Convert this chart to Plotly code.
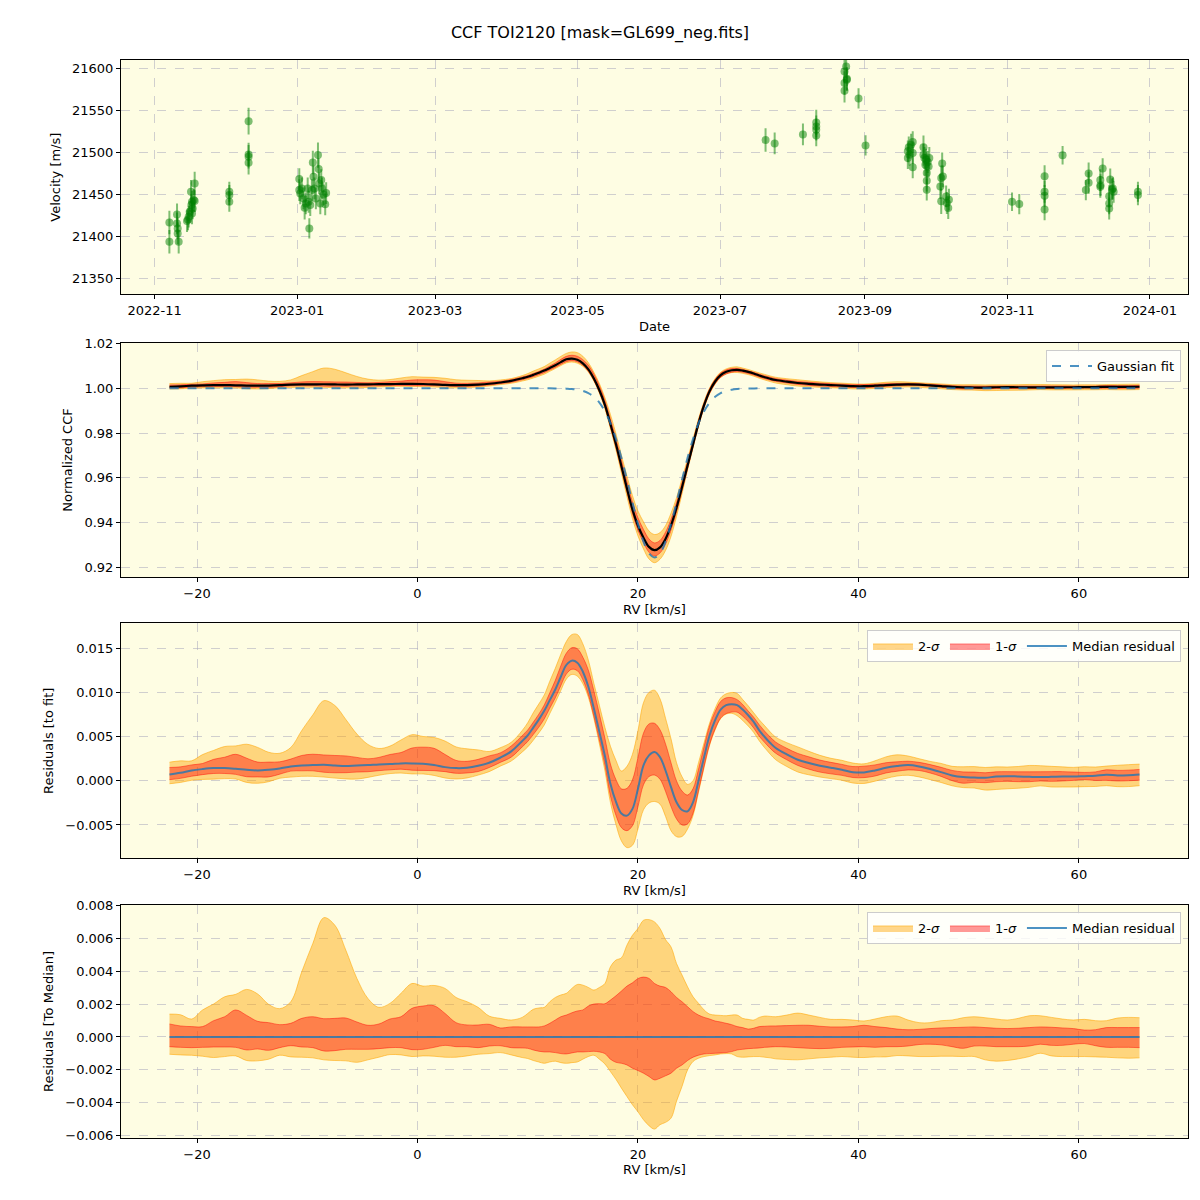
import plotly.graph_objects as go

# ---------------- Top panel: RV time series ----------------
obs_dates = [
    "2022-11-07 07:00", "2022-11-07 07:00", "2022-11-10 13:40", "2022-11-10 13:40",
    "2022-11-10 20:24", "2022-11-10 20:24", "2022-11-11 06:43", "2022-11-14 20:10",
    "2022-11-15 06:29", "2022-11-15 13:26", "2022-11-15 23:31", "2022-11-16 13:12",
    "2022-11-16 16:48", "2022-11-16 23:31", "2022-11-16 23:31", "2022-11-17 06:29",
    "2022-11-17 16:48", "2022-11-18 02:53", "2022-11-18 02:53",
    "2022-12-02 22:48", "2022-12-02 22:48", "2022-12-02 22:48",
    "2022-12-11 04:48", "2022-12-11 04:48", "2022-12-11 04:48", "2022-12-11 04:48",
    "2023-01-01 21:36", "2023-01-01 21:36", "2023-01-02 07:12", "2023-01-03 00:00",
    "2023-01-03 16:48", "2023-01-04 04:48", "2023-01-04 16:48", "2023-01-05 12:00",
    "2023-01-05 21:36", "2023-01-06 04:48", "2023-01-06 14:24", "2023-01-07 07:12",
    "2023-01-07 16:48", "2023-01-08 00:00", "2023-01-08 09:36", "2023-01-09 00:00",
    "2023-01-09 21:36", "2023-01-10 04:48", "2023-01-10 09:36", "2023-01-10 21:36",
    "2023-01-11 07:12", "2023-01-11 14:24", "2023-01-12 07:12", "2023-01-13 00:00",
    "2023-01-13 09:36",
    "2023-07-20 12:00", "2023-07-24 09:36", "2023-08-05 12:00",
    "2023-08-11 04:48", "2023-08-11 04:48", "2023-08-11 04:48", "2023-08-11 04:48",
    "2023-08-23 07:12", "2023-08-23 07:12", "2023-08-23 07:12", "2023-08-24 00:00",
    "2023-08-24 07:12", "2023-08-24 07:12", "2023-08-29 07:12", "2023-09-01 07:12",
    "2023-09-19 09:36", "2023-09-19 09:36", "2023-09-19 19:12", "2023-09-20 02:24",
    "2023-09-20 19:12", "2023-09-21 12:00", "2023-09-21 12:00", "2023-09-21 12:00",
    "2023-09-26 02:24", "2023-09-26 02:24", "2023-09-26 12:00", "2023-09-26 21:36",
    "2023-09-27 04:48", "2023-09-27 12:00", "2023-09-27 12:00", "2023-09-27 12:00",
    "2023-09-27 21:36", "2023-09-28 07:12", "2023-09-28 14:24",
    "2023-10-03 07:12", "2023-10-03 16:48", "2023-10-03 16:48", "2023-10-04 02:24",
    "2023-10-04 09:36", "2023-10-05 19:12", "2023-10-06 02:24", "2023-10-06 16:48",
    "2023-10-07 00:00",
    "2023-11-03 00:00", "2023-11-06 02:24", "2023-11-16 22:48", "2023-11-16 22:48",
    "2023-11-16 22:48", "2023-11-16 22:48", "2023-11-24 15:36", "2023-12-04 14:24",
    "2023-12-05 19:12", "2023-12-05 19:12", "2023-12-10 19:12", "2023-12-10 19:12",
    "2023-12-10 21:00", "2023-12-11 19:12", "2023-12-14 14:24", "2023-12-14 14:24",
    "2023-12-14 14:24", "2023-12-15 01:12", "2023-12-15 19:12", "2023-12-16 12:00",
    "2023-12-16 04:00", "2023-12-26 21:36", "2023-12-26 21:36",
]
velocity = [
    21416.6, 21393.6, 21426.0, 21415.4,
    21409.5, 21403.5, 21393.6, 21418.2,
    21420.2, 21423.4, 21429.3, 21453.1,
    21437.3, 21441.2, 21427.3, 21433.3,
    21443.2, 21442.0, 21463.0,
    21453.1, 21449.2, 21441.2,
    21537.2, 21497.6, 21494.8, 21487.6,
    21468.2, 21455.1, 21451.1, 21457.1,
    21445.2, 21434.1, 21439.2, 21457.1,
    21441.2, 21409.5, 21437.3, 21455.1,
    21488.0, 21471.0, 21457.1, 21445.2,
    21496.8, 21480.1, 21463.0, 21439.2,
    21467.0, 21457.1, 21449.9, 21438.1,
    21451.5,
    21514.7, 21510.7, 21521.4,
    21535.7, 21530.9, 21520.2, 21527.0,
    21596.4, 21582.5, 21573.4, 21602.4,
    21587.7, 21586.5, 21564.3, 21508.3,
    21501.2, 21493.3, 21506.0, 21497.2,
    21509.1, 21499.2, 21512.3, 21482.2,
    21506.0, 21497.2, 21493.3, 21485.3,
    21491.3, 21475.4, 21466.3, 21455.6,
    21488.5, 21483.3, 21493.3,
    21459.5, 21469.4, 21441.7, 21486.9,
    21471.4, 21447.6, 21439.7, 21433.7,
    21443.7,
    21441.2, 21438.4, 21471.7, 21453.1,
    21448.3, 21432.1, 21496.7, 21455.1,
    21474.9, 21463.8, 21459.0, 21467.0,
    21461.0, 21480.9, 21447.9, 21439.2,
    21433.2, 21467.8, 21455.9, 21453.1,
    21457.0, 21453.1, 21449.1,
]
velocity_err = [
    14, 14, 13, 13, 13, 13, 14, 13, 13, 13, 13, 14, 13, 13, 13, 13, 13, 13, 14,
    12, 12, 12, 16, 14, 14, 14,
    13, 13, 13, 13, 13, 14, 13, 13, 13, 12, 13, 13, 14, 13, 13, 13, 15, 13, 13, 13,
    13, 13, 13, 13, 13,
    14, 13, 13, 15, 13, 13, 13, 14, 14, 14, 14, 14, 13, 12, 12,
    13, 13, 13, 13, 13, 13, 13, 13, 14, 13, 13, 13, 13, 13, 13, 13, 13, 13, 13,
    15, 15, 15, 13, 13, 13, 13, 13, 13,
    11, 12, 13, 13, 13, 13, 11, 12, 13, 13, 13, 13, 13, 12, 13, 13, 13, 13, 13, 13,
    13, 12, 12,
]

# ---------------- CCF / residual profiles ----------------
rv = [
    -22.5, -21.5, -20.5, -19.5, -18.5, -17.5, -16.5, -15.5, -14.5, -13.5, -12.5,
    -11.5, -10.5, -9.5, -8.5, -7.5, -6.5, -5.5, -4.5, -3.5, -2.5, -1.5, -0.5,
    0.5, 1.5, 2.5, 3.5, 4.5, 5.5, 6.5, 7.5, 8.5, 9.5,
    10.0, 10.5, 11.0, 11.5, 12.0, 12.5, 13.0, 13.5, 14.0, 14.5,
    15.0, 15.5, 16.0, 16.5, 17.0, 17.5, 18.0, 18.5, 19.0, 19.5,
    20.0, 20.5, 21.0, 21.5, 22.0, 22.5, 23.0, 23.5, 24.0, 24.5,
    25.0, 25.5, 26.0, 26.5, 27.0, 27.5, 28.0, 28.5, 29.0, 29.5,
    30.0, 30.5, 31.0, 31.5, 32.0,
    32.5, 33.5, 34.5, 35.5, 36.5, 37.5, 38.5, 39.5, 40.5, 41.5, 42.5, 43.5,
    44.5, 45.5, 46.5, 47.5, 48.5, 49.5, 50.5, 51.5, 52.5, 53.5, 54.5, 55.5,
    56.5, 57.5, 58.5, 59.5, 60.5, 61.5, 62.5, 63.5, 64.5, 65.5,
]
gauss_fit = [
    1.0, 1.0, 1.0, 1.0, 1.0, 1.0, 1.0, 1.0, 1.0, 1.0, 1.0,
    1.0, 1.0, 1.0, 1.0, 1.0, 1.0, 1.0, 1.0, 1.0, 1.0, 1.0, 1.0,
    1.0, 1.0, 1.0, 1.0, 1.0, 1.0, 1.0, 1.0, 1.0, 1.0,
    1.0, 1.0, 1.0, 1.0, 0.99999, 0.99997, 0.99994, 0.99986, 0.99971, 0.99940,
    0.99884, 0.99784, 0.99619, 0.99360, 0.98977, 0.98443, 0.97746, 0.96892, 0.95922, 0.94907,
    0.93947, 0.93151, 0.92624, 0.92440, 0.92624, 0.93151, 0.93947, 0.94907, 0.95922, 0.96892,
    0.97746, 0.98443, 0.98977, 0.99360, 0.99619, 0.99784, 0.99884, 0.99940, 0.99971, 0.99986,
    0.99994, 0.99997, 0.99999, 1.0, 1.0,
    1.0, 1.0, 1.0, 1.0, 1.0, 1.0, 1.0, 1.0, 1.0, 1.0, 1.0, 1.0,
    1.0, 1.0, 1.0, 1.0, 1.0, 1.0, 1.0, 1.0, 1.0, 1.0, 1.0, 1.0,
    1.0, 1.0, 1.0, 1.0, 1.0, 1.0, 1.0, 1.0, 1.0, 1.0,
]
res_median = [
    0.00072, 0.00091, 0.00117, 0.00133, 0.00144, 0.00144, 0.00136, 0.00125, 0.00117, 0.00125, 0.00140,
    0.00163, 0.00174, 0.00178, 0.00182, 0.00174, 0.00167, 0.00174, 0.00178, 0.00186, 0.00189, 0.00197, 0.00197,
    0.00193, 0.00178, 0.00155, 0.00144, 0.00148, 0.00170, 0.00205, 0.00261, 0.00333, 0.00451,
    0.00515, 0.00602, 0.00693, 0.00792, 0.00913, 0.01034, 0.01178, 0.01311, 0.01360, 0.01337,
    0.01235, 0.01064, 0.00818, 0.00553, 0.00280, -0.00034, -0.00235, -0.00370, -0.00394, -0.00318,
    -0.00090, 0.00175, 0.00288, 0.00326, 0.00269, 0.00117, -0.00072, -0.00242, -0.00330, -0.00345,
    -0.00242, 0.00004, 0.00269, 0.00515, 0.00686, 0.00807, 0.00856, 0.00867, 0.00856, 0.00807,
    0.00742, 0.00667, 0.00572, 0.00496, 0.00428,
    0.00371, 0.00299, 0.00239, 0.00201, 0.00170, 0.00148, 0.00125, 0.00098, 0.00095, 0.00117, 0.00148, 0.00167,
    0.00178, 0.00163, 0.00133, 0.00098, 0.00061, 0.00042, 0.00038, 0.00034, 0.00049, 0.00053, 0.00049, 0.00045,
    0.00042, 0.00045, 0.00049, 0.00049, 0.00053, 0.00057, 0.00068, 0.00061, 0.00064, 0.00072,
]
# spread of the residuals around their median (bottom panel)
dev_hi2 = [
    0.00139, 0.00135, 0.00109, 0.00164, 0.00200, 0.00244, 0.00259, 0.00289, 0.00261, 0.00198, 0.00172,
    0.00214, 0.00396, 0.00568, 0.00725, 0.00679, 0.00527, 0.00356, 0.00234, 0.00180, 0.00204, 0.00265, 0.00325,
    0.00309, 0.00313, 0.00295, 0.00240, 0.00214, 0.00180, 0.00127, 0.00113, 0.00103, 0.00119,
    0.00143, 0.00168, 0.00176, 0.00180, 0.00214, 0.00240, 0.00255, 0.00265, 0.00295, 0.00319,
    0.00315, 0.00301, 0.00285, 0.00301, 0.00325, 0.00426, 0.00467, 0.00481, 0.00558, 0.00618,
    0.00659, 0.00709, 0.00713, 0.00699, 0.00659, 0.00592, 0.00547, 0.00446, 0.00376, 0.00305,
    0.00244, 0.00204, 0.00164, 0.00139, 0.00133, 0.00131, 0.00129, 0.00133, 0.00133, 0.00113,
    0.00107, 0.00103, 0.00119, 0.00127, 0.00125,
    0.00123, 0.00133, 0.00145, 0.00133, 0.00119, 0.00107, 0.00107, 0.00103, 0.00097, 0.00109, 0.00123, 0.00127,
    0.00103, 0.00087, 0.00087, 0.00099, 0.00103, 0.00117, 0.00123, 0.00117, 0.00109, 0.00103, 0.00113, 0.00129,
    0.00129, 0.00119, 0.00109, 0.00103, 0.00107, 0.00099, 0.00099, 0.00115, 0.00119, 0.00117,
]
dev_hi1 = [
    0.00079, 0.00067, 0.00063, 0.00063, 0.00099, 0.00123, 0.00164, 0.00131, 0.00095, 0.00087, 0.00075,
    0.00083, 0.00113, 0.00123, 0.00111, 0.00113, 0.00115, 0.00091, 0.00071, 0.00079, 0.00109, 0.00123, 0.00174,
    0.00188, 0.00190, 0.00143, 0.00087, 0.00073, 0.00073, 0.00077, 0.00055, 0.00061, 0.00061,
    0.00061, 0.00061, 0.00061, 0.00067, 0.00083, 0.00103, 0.00123, 0.00133, 0.00147, 0.00158,
    0.00164, 0.00188, 0.00200, 0.00202, 0.00202, 0.00224, 0.00250, 0.00279, 0.00309, 0.00329,
    0.00355, 0.00364, 0.00356, 0.00325, 0.00309, 0.00301, 0.00275, 0.00240, 0.00214, 0.00184,
    0.00154, 0.00133, 0.00119, 0.00109, 0.00097, 0.00091, 0.00083, 0.00075, 0.00063, 0.00057,
    0.00048, 0.00053, 0.00063, 0.00065, 0.00067,
    0.00067, 0.00069, 0.00071, 0.00071, 0.00065, 0.00061, 0.00061, 0.00063, 0.00071, 0.00063, 0.00057, 0.00048,
    0.00044, 0.00046, 0.00051, 0.00055, 0.00057, 0.00059, 0.00061, 0.00057, 0.00053, 0.00051, 0.00053, 0.00057,
    0.00061, 0.00059, 0.00055, 0.00051, 0.00042, 0.00044, 0.00057, 0.00057, 0.00057, 0.00057,
]
dev_lo1 = [
    -0.00059, -0.00063, -0.00065, -0.00063, -0.00061, -0.00061, -0.00063, -0.00079, -0.00073, -0.00081, -0.00065,
    -0.00053, -0.00061, -0.00065, -0.00085, -0.00083, -0.00075, -0.00075, -0.00075, -0.00071, -0.00065, -0.00065, -0.00077,
    -0.00075, -0.00063, -0.00051, -0.00059, -0.00059, -0.00065, -0.00055, -0.00053, -0.00065, -0.00067,
    -0.00069, -0.00079, -0.00087, -0.00091, -0.00091, -0.00095, -0.00101, -0.00103, -0.00097, -0.00091,
    -0.00091, -0.00089, -0.00087, -0.00091, -0.00101, -0.00135, -0.00154, -0.00160, -0.00170, -0.00190,
    -0.00204, -0.00220, -0.00240, -0.00261, -0.00251, -0.00236, -0.00220, -0.00190, -0.00170, -0.00143,
    -0.00123, -0.00111, -0.00103, -0.00101, -0.00099, -0.00097, -0.00095, -0.00089, -0.00079, -0.00075,
    -0.00071, -0.00069, -0.00067, -0.00063, -0.00061,
    -0.00059, -0.00061, -0.00065, -0.00069, -0.00071, -0.00069, -0.00063, -0.00061, -0.00059, -0.00063, -0.00059, -0.00059,
    -0.00055, -0.00046, -0.00044, -0.00048, -0.00059, -0.00069, -0.00055, -0.00055, -0.00059, -0.00059, -0.00059, -0.00055,
    -0.00044, -0.00051, -0.00051, -0.00044, -0.00040, -0.00053, -0.00063, -0.00063, -0.00063, -0.00065,
]
dev_lo2 = [
    -0.00105, -0.00109, -0.00111, -0.00117, -0.00125, -0.00119, -0.00115, -0.00143, -0.00145, -0.00135, -0.00111,
    -0.00121, -0.00123, -0.00127, -0.00139, -0.00143, -0.00145, -0.00154, -0.00139, -0.00123, -0.00107, -0.00109, -0.00119,
    -0.00115, -0.00117, -0.00123, -0.00123, -0.00115, -0.00105, -0.00101, -0.00095, -0.00109, -0.00125,
    -0.00131, -0.00143, -0.00152, -0.00160, -0.00152, -0.00147, -0.00156, -0.00160, -0.00156, -0.00152,
    -0.00135, -0.00119, -0.00111, -0.00135, -0.00164, -0.00210, -0.00257, -0.00311, -0.00362, -0.00412,
    -0.00455, -0.00503, -0.00539, -0.00560, -0.00533, -0.00519, -0.00493, -0.00390, -0.00300, -0.00200,
    -0.00149, -0.00129, -0.00119, -0.00113, -0.00109, -0.00103, -0.00101, -0.00103, -0.00119, -0.00123,
    -0.00121, -0.00119, -0.00119, -0.00123, -0.00127,
    -0.00133, -0.00137, -0.00139, -0.00133, -0.00127, -0.00123, -0.00119, -0.00123, -0.00125, -0.00121, -0.00121, -0.00113,
    -0.00115, -0.00119, -0.00119, -0.00117, -0.00117, -0.00119, -0.00119, -0.00139, -0.00147, -0.00143, -0.00133, -0.00119,
    -0.00099, -0.00115, -0.00119, -0.00119, -0.00119, -0.00121, -0.00123, -0.00127, -0.00129, -0.00127,
]

# derived series (residuals to fit, CCF = fit + residual)
res_hi2 = [m + d for m, d in zip(res_median, dev_hi2)]
res_hi1 = [m + d for m, d in zip(res_median, dev_hi1)]
res_lo1 = [m + d for m, d in zip(res_median, dev_lo1)]
res_lo2 = [m + d for m, d in zip(res_median, dev_lo2)]
ccf_median = [g + r for g, r in zip(gauss_fit, res_median)]
ccf_hi2 = [g + r for g, r in zip(gauss_fit, res_hi2)]
ccf_hi1 = [g + r for g, r in zip(gauss_fit, res_hi1)]
ccf_lo1 = [g + r for g, r in zip(gauss_fit, res_lo1)]
ccf_lo2 = [g + r for g, r in zip(gauss_fit, res_lo2)]
med_to_med = [m - m for m in res_median]

# ---------------- styles ----------------
FONT = "DejaVu Sans"
BG = "#fefde3"
GRID = "rgba(170,170,190,0.55)"
OR_FILL = "rgba(255,165,0,0.45)"
OR_EDGE = "rgba(255,165,0,0.55)"
RD_FILL = "rgba(255,0,0,0.40)"
RD_EDGE = "rgba(255,0,0,0.45)"
BLUE = "rgba(31,119,180,0.8)"

fig = go.Figure()

fig.add_trace(go.Scatter(
    x=obs_dates, y=velocity, mode="markers", name="Good",
    marker=dict(color="rgba(0,128,0,0.5)", size=8, line=dict(width=0)),
    error_y=dict(type="data", array=velocity_err, color="rgba(0,128,0,0.5)",
                 thickness=2, width=0),
    xaxis="x", yaxis="y", legend="legend",
))


def add_bands(lo2, hi2, lo1, hi1, xa, ya, leg, show):
    fig.add_trace(go.Scatter(x=rv, y=lo2, mode="lines", line=dict(color=OR_EDGE, width=1, shape="spline"),
                             showlegend=False, xaxis=xa, yaxis=ya, legend=leg, hoverinfo="skip"))
    fig.add_trace(go.Scatter(x=rv, y=hi2, mode="lines", line=dict(color=OR_EDGE, width=1, shape="spline"),
                             fill="tonexty", fillcolor=OR_FILL, name="2-<i>σ</i>", showlegend=show,
                             xaxis=xa, yaxis=ya, legend=leg, hoverinfo="skip"))
    fig.add_trace(go.Scatter(x=rv, y=lo1, mode="lines", line=dict(color=RD_EDGE, width=1, shape="spline"),
                             showlegend=False, xaxis=xa, yaxis=ya, legend=leg, hoverinfo="skip"))
    fig.add_trace(go.Scatter(x=rv, y=hi1, mode="lines", line=dict(color=RD_EDGE, width=1, shape="spline"),
                             fill="tonexty", fillcolor=RD_FILL, name="1-<i>σ</i>", showlegend=show,
                             xaxis=xa, yaxis=ya, legend=leg, hoverinfo="skip"))


# panel 2
add_bands(ccf_lo2, ccf_hi2, ccf_lo1, ccf_hi1, "x2", "y2", "legend2", False)
fig.add_trace(go.Scatter(x=rv, y=ccf_median, mode="lines", line=dict(color="black", width=2.2, shape="spline"),
                         showlegend=False, xaxis="x2", yaxis="y2", legend="legend2"))
fig.add_trace(go.Scatter(x=rv, y=gauss_fit, mode="lines", name="Gaussian fit",
                         line=dict(color=BLUE, width=2, dash="dash", shape="spline"),
                         xaxis="x2", yaxis="y2", legend="legend2"))

# panel 3
add_bands(res_lo2, res_hi2, res_lo1, res_hi1, "x3", "y3", "legend3", True)
fig.add_trace(go.Scatter(x=rv, y=res_median, mode="lines", name="Median residual",
                         line=dict(color=BLUE, width=2, shape="spline"),
                         xaxis="x3", yaxis="y3", legend="legend3"))

# panel 4
add_bands(dev_lo2, dev_hi2, dev_lo1, dev_hi1, "x4", "y4", "legend4", True)
fig.add_trace(go.Scatter(x=rv, y=med_to_med, mode="lines", name="Median residual",
                         line=dict(color=BLUE, width=2),
                         xaxis="x4", yaxis="y4", legend="legend4"))

common_axis = dict(
    showline=True, mirror=True, linecolor="black", linewidth=1,
    ticks="outside", ticklen=4, tickwidth=1, tickcolor="black",
    showgrid=True, gridcolor=GRID, griddash="dash", gridwidth=1,
    zeroline=False, tickfont=dict(size=13, color="black", family=FONT),
)
title_font = dict(size=13, color="black", family=FONT)

# page has an 8px body margin: figure is 1192x1192 starting at (8, 8)
W = H = 1192
ML, MR, MT, MB = 113, 12, 52, 62
PH = H - MT - MB


def ydom(top_px, bot_px):
    # page pixel coordinates -> paper fraction
    t = top_px - 8 - MT
    b = bot_px - 8 - MT
    return [max(0.0, 1 - b / PH), min(1.0, 1 - t / PH)]


doms = {1: ydom(60, 294.3), 2: ydom(342.7, 577.3), 3: ydom(623.3, 858.3), 4: ydom(905, 1138)}

layout = dict(
    width=W, height=H,
    margin=dict(l=ML, r=MR, t=MT, b=MB, autoexpand=False),
    paper_bgcolor="white", plot_bgcolor=BG,
    font=dict(family=FONT, size=13, color="black"),
    title=dict(text="CCF TOI2120 [mask=GL699_neg.fits]", x=(600 - 8) / W, xanchor="center",
               xref="container", y=1 - (32 - 8) / H, yanchor="middle",
               font=dict(size=16, color="black", family=FONT)),
    xaxis=dict(common_axis, type="date", range=["2022-10-17 14:00", "2024-01-17 08:00"],
               tickformat="%Y-%m", dtick="M2", tick0="2022-11-01", anchor="y", domain=[0, 1],
               title=dict(text="Date", font=title_font, standoff=4)),
    yaxis=dict(common_axis, range=[21331, 21610], tickformat="d", dtick=50, tick0=21350,
               anchor="x", domain=doms[1],
               title=dict(text="Velocity [m/s]", font=title_font, standoff=8)),
)
rv_range = [-26.9, 69.9]
yinfo = {
    2: ([0.91553, 1.0204], ".2f", 0.02, "Normalized CCF"),
    3: ([-0.00877, 0.01783], ".3f", 0.005, "Residuals [to fit]"),
    4: ([-0.00614, 0.00802], ".3f", 0.002, "Residuals [To Median]"),
}
for i in (2, 3, 4):
    rng, fmt, dt, ttl = yinfo[i]
    layout[f"xaxis{i}"] = dict(common_axis, range=rv_range, dtick=20, tick0=0, anchor=f"y{i}", domain=[0, 1],
                               title=dict(text="RV [km/s]", font=title_font, standoff=4))
    layout[f"yaxis{i}"] = dict(common_axis, range=rng, tickformat=fmt, dtick=dt, tick0=0, anchor=f"x{i}",
                               domain=doms[i], title=dict(text=ttl, font=title_font, standoff=8))


def legy(top_px):
    return 1 - (top_px - 8 - MT) / PH


leg_common = dict(bgcolor="rgba(255,255,255,0.8)", bordercolor="#cccccc", borderwidth=1,
                  xanchor="right", yanchor="top", x=(1181 - 8 - ML) / (W - ML - MR),
                  traceorder="normal", font=dict(size=13, color="black", family=FONT))
layout["legend"] = dict(leg_common, y=legy(67))
layout["legend2"] = dict(leg_common, y=legy(350), itemwidth=40)
layout["legend3"] = dict(leg_common, y=legy(630), orientation="h", itemwidth=40)
layout["legend4"] = dict(leg_common, y=legy(912), orientation="h", itemwidth=40)

fig.update_layout(**layout)
fig.write_html("out.html")
